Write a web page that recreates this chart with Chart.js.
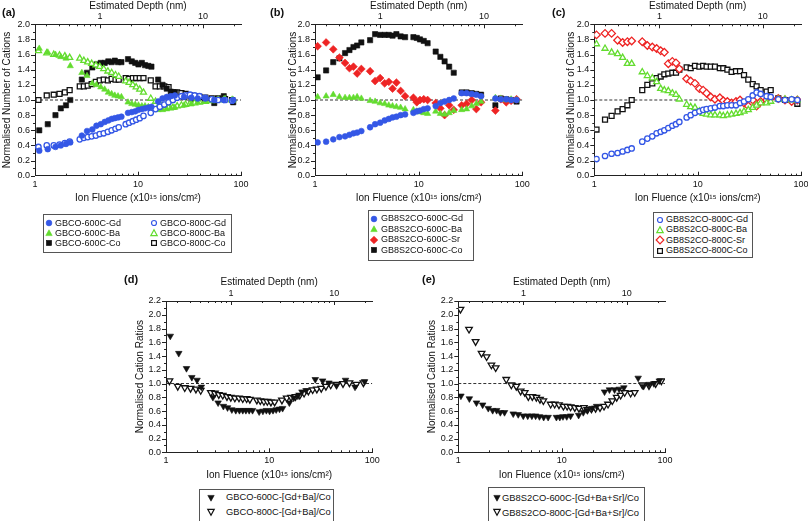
<!DOCTYPE html>
<html><head><meta charset="utf-8">
<script src="https://cdn.jsdelivr.net/npm/chart.js@4.4.0/dist/chart.umd.min.js"></script>
<style>
html,body{margin:0;padding:0;background:#fff;}
#page{position:relative;width:808px;height:521px;overflow:hidden;font-family:"Liberation Sans",Arial,sans-serif;color:#111;}
#page canvas{position:absolute;}
.plbl{position:absolute;font-weight:bold;font-size:11px;line-height:13px;}
.leg{position:absolute;border:1.5px solid #555;box-sizing:border-box;}
.li{position:absolute;white-space:nowrap;line-height:11px;}
.ls{position:absolute;width:10px;height:10px;}
.ls svg{display:block;}
</style></head>
<body><div id="page"></div>
<script>
// ---------------- DATA ----------------
// Ion fluence (x10^15 ions/cm^2) sampling for each sample
const fluGBCO600 = [1.1,1.33,1.58,1.78,2.0,2.2, 2.85,3.2,3.6,3.95,4.35,4.75,5.15,5.55,5.95,6.4,6.9, 8.0,8.7,9.4,10.1,10.9,11.7,12.6,13.5, 15.7,17.3,19.0,20.8,22.8, 28,33,38,45,55,68,84];
const fluGBCO800 = [1.08,1.3,1.52,1.73,1.95,2.17, 2.72,2.98,3.25,3.55,3.9,4.25,4.65,5.1,5.55,6.05,6.5, 7.6,8.2,8.9,9.6,10.4,11.3, 13.3,14.8,16.3,18.0,19.8,21.8,24.0,26.4,29.0,32,35.5,39.5, 45,52,60,70,82];
const fluGB8S2600 = [1.06,1.28,1.5,1.72,1.95,2.15,2.35,2.55,2.8, 3.4,3.8,4.25,4.7,5.15,5.6,6.1,6.7,7.4, 8.9,9.6,10.3,11.2,12.2, 14.6,16.2,17.8,19.7,21.8, 26,29,32.5,36,40, 55,62,70,78,88];
const fluGB8S2800 = [1.05,1.27,1.47,1.68,1.88,2.09,2.3, 2.91,3.26,3.64,4.01,4.39,4.76,5.2,5.69,6.17,6.65, 7.83,8.56,9.42,10.4,11.3,12.2,13.4,14.7,16.4,17.7,19.4,21.3,23.5,25.7,28.1,30.9,34.1,37.2,40.7,46.5,50.9, 60.3,70.0,81.2,92.2];

// (a) GBCO normalised number of cations
const gbco600Gd = [0.33,0.35,0.38,0.40,0.42,0.44, 0.53,0.59,0.61,0.66,0.68,0.71,0.73,0.75,0.76,0.77,0.78, 0.83,0.84,0.85,0.87,0.88,0.89,0.90,0.91, 0.98,1.02,1.04,1.05,1.06, 1.04,1.03,1.02,1.02,1.00,1.00,1.00];
const gbco600Ba = [1.68,1.63,1.60,1.57,1.55,1.45, 1.36,1.32,1.22,1.20,1.17,1.14,1.10,1.08,1.06,1.05,1.04, 0.97,0.95,0.94,0.93,0.92,0.92,0.91,0.90, 0.87,0.87,0.88,0.89,0.90, 0.93,0.95,0.97,0.98,1.00,1.01,1.00];
const gbco600Co = [0.60,0.68,0.80,0.89,0.93,1.00, 1.27,1.36,1.43,1.47,1.49,1.49,1.51,1.50,1.52,1.50,1.50, 1.54,1.51,1.49,1.47,1.49,1.46,1.45,1.44, 1.27,1.20,1.15,1.11,1.10, 1.04,1.01,1.03,1.00,0.96,1.05,0.97];
const gbco800Gd = [0.38,0.40,0.40,0.41,0.43,0.45, 0.48,0.50,0.51,0.52,0.53,0.55,0.56,0.58,0.60,0.62,0.64, 0.68,0.70,0.72,0.74,0.76,0.79, 0.83,0.88,0.91,0.94,0.97,1.00,1.03,1.05,1.06,1.07,1.06,1.05, 1.03,1.01,1.00,1.00,0.99];
const gbco800Ba = [1.65,1.62,1.60,1.59,1.58,1.56, 1.55,1.52,1.50,1.48,1.46,1.44,1.41,1.38,1.36,1.33,1.31, 1.25,1.23,1.20,1.17,1.14,1.10, 1.02,0.98,0.95,0.92,0.90,0.90,0.92,0.93,0.94,0.95,0.96,0.97, 0.98,0.99,1.00,1.01,1.00];
const gbco800Co = [1.00,1.06,1.07,1.08,1.10,1.13, 1.18,1.18,1.19,1.21,1.24,1.26,1.27,1.26,1.28,1.27,1.27, 1.29,1.28,1.29,1.29,1.29,1.29, 1.26,1.18,1.18,1.18,1.17,1.10,1.10,1.09,1.08,1.06,1.05,1.04, 1.03,1.02,1.02,1.01,1.00];

// (b) GB8S2CO-600C
const gb600Gd = [0.44,0.45,0.48,0.51,0.52,0.54,0.56,0.57,0.59, 0.64,0.68,0.70,0.73,0.75,0.77,0.78,0.80,0.81, 0.83,0.85,0.86,0.88,0.89, 0.92,0.96,0.98,1.00,1.02, 1.09,1.09,1.08,1.07,1.05, 1.02,1.01,1.01,1.00,1.00];
const gb600Ba = [1.04,1.05,1.07,1.04,1.03,1.03,1.03,1.04,1.02, 0.99,0.98,0.96,0.95,0.93,0.92,0.91,0.90,0.88, 0.87,0.85,0.84,0.83,0.82, 0.85,0.82,0.81,0.83,0.86, 0.87,0.88,0.92,0.95,0.98, 1.03,1.02,1.00,1.01,1.00];
const gb600Sr = [1.71,1.76,1.67,1.56,1.49,1.42,1.44,1.35,1.41, 1.38,1.25,1.29,1.22,1.24,1.15,1.23,1.12,1.05, 1.03,0.97,1.00,1.01,1.00, 0.96,0.89,0.80,0.93,0.87, 0.93,0.95,1.00,0.88,0.97, 0.86,1.01,0.97,0.99,1.01];
const gb600Co = [1.30,1.39,1.50,1.55,1.62,1.66,1.70,1.72,1.76, 1.79,1.87,1.86,1.86,1.86,1.85,1.87,1.84,1.83, 1.83,1.82,1.80,1.78,1.75, 1.64,1.57,1.51,1.44,1.36, 1.10,1.10,1.09,1.08,1.07, 0.93,1.02,1.01,1.00,0.98];

// (c) GB8S2CO-800C
const gb800Gd = [0.22,0.26,0.29,0.30,0.32,0.34,0.36, 0.45,0.49,0.52,0.56,0.58,0.60,0.63,0.66,0.68,0.71, 0.77,0.80,0.83,0.85,0.87,0.88,0.89,0.90,0.92,0.92,0.93,0.93,0.93,0.96,0.98,1.01,1.06,1.10,1.08,1.05,1.04, 1.01,1.00,1.01,1.00];
const gb800Ba = [1.74,1.68,1.63,1.61,1.56,1.48,1.48, 1.37,1.32,1.29,1.24,1.15,1.13,1.12,1.09,1.07,1.01, 0.94,0.91,0.90,0.85,0.82,0.81,0.80,0.80,0.80,0.79,0.80,0.81,0.82,0.83,0.85,0.87,0.90,0.93,0.96,0.96,0.98, 1.01,1.01,1.00,1.00];
const gb800Sr = [1.86,1.88,1.88,1.79,1.76,1.77,1.78, 1.77,1.72,1.70,1.68,1.65,1.63,1.48,1.51,1.49,1.41, 1.28,1.25,1.22,1.15,1.13,1.09,1.04,1.01,1.03,0.99,0.98,0.96,0.98,1.00,0.96,0.92,1.00,0.92,0.98,1.00,1.02, 1.02,1.00,0.98,1.00];
const gb800Co = [0.61,0.74,0.79,0.85,0.88,0.93,1.00, 1.13,1.20,1.22,1.29,1.31,1.34,1.35,1.36,1.36,1.40, 1.43,1.42,1.45,1.44,1.45,1.44,1.44,1.44,1.42,1.42,1.40,1.37,1.38,1.38,1.33,1.27,1.21,1.18,1.13,1.11,1.13, 1.02,1.00,1.00,0.95];

// (d),(e) normalised cation ratios
const gbco600Ratio = [1.69,1.44,1.22,1.09,1.05,0.95, 0.80,0.72,0.67,0.65,0.62,0.61,0.61,0.61,0.61,0.61,0.61, 0.59,0.60,0.61,0.60,0.61,0.62,0.63,0.64, 0.72,0.79,0.82,0.88,0.90, 1.06,1.04,1.01,0.97,1.05,0.95,1.03];
const gbco800Ratio = [1.04,0.96,0.94,0.93,0.92,0.90, 0.87,0.86,0.84,0.83,0.81,0.80,0.79,0.79,0.78,0.78,0.77, 0.76,0.75,0.74,0.74,0.73,0.73, 0.76,0.79,0.80,0.81,0.83,0.86,0.89,0.91,0.92,0.93,0.96,0.98, 0.99,1.00,1.01,0.99,1.01];
const gb600Ratio = [0.82,0.78,0.72,0.69,0.64,0.61,0.61,0.58,0.58, 0.56,0.55,0.53,0.53,0.53,0.53,0.52,0.51,0.51, 0.51,0.51,0.52,0.52,0.53, 0.54,0.58,0.61,0.64,0.67, 0.88,0.91,0.91,0.92,0.94, 1.08,0.96,0.99,1.00,1.04];
const gb800Ratio = [2.08,1.79,1.61,1.44,1.39,1.27,1.23, 1.06,0.98,0.96,0.89,0.87,0.81,0.81,0.80,0.77,0.75, 0.70,0.70,0.69,0.67,0.67,0.66,0.65,0.64,0.65,0.62,0.63,0.64,0.65,0.67,0.70,0.75,0.80,0.83,0.87,0.86,0.87, 0.98,0.97,1.00,1.04];

// tick labels / axis texts
const xTickLabels = [1, 10, 100];
const depthTickLabels = [1, 10];
const depthPerFluence = 1 / 4.27;   // estimated depth (nm) = fluence * factor
const xTitle = 'Ion Fluence (x10\u00B9\u2075 ions/cm\u00B2)';
const topTitle = 'Estimated Depth (nm)';
const yTitleCations = 'Normalised Number of Cations';
const yTitleRatios = 'Normalised Cation Ratios';
const refLevel = 1.0;

// ---------------- STYLE ----------------
const C = {blue:'#3457e6', green:'#63dc2f', red:'#ee2424', black:'#111111', axis:'#222222'};
const FONT = '"Liberation Sans", Arial, sans-serif';
Chart.defaults.font.family = FONT;
Chart.defaults.color = '#111';

const MK = {
  circF:{ps:'circle', r:2.9, fill:true},  circO:{ps:'circle', r:2.7, fill:false},
  triF:{ps:'triangle', r:3.6, fill:true}, triO:{ps:'triangle', r:3.5, fill:false},
  sqF:{ps:'rect', r:3.7, fill:true},      sqO:{ps:'rect', r:3.5, fill:false},
  diaF:{ps:'rectRot', r:3.9, fill:true},  diaO:{ps:'rectRot', r:3.8, fill:false},
  itriF:{ps:'triangle', r:3.8, fill:true, rot:180}, itriO:{ps:'triangle', r:3.8, fill:false, rot:180}
};

function pts(xs, ys){ const n=Math.min(xs.length, ys.length), o=[]; for(let i=0;i<n;i++) o.push({x:xs[i], y:ys[i]}); return o; }
function series(label, xs, ys, mk, color){
  const m = MK[mk];
  return { label, data: pts(xs, ys), showLine:false, pointStyle:m.ps, rotation:m.rot||0,
    pointRadius:m.r, pointHoverRadius:m.r,
    pointBackgroundColor: m.fill ? color : '#ffffff', pointBorderColor: color,
    pointBorderWidth: m.fill ? 0.6 : 1.3, backgroundColor: color, borderColor: color, order:1 };
}
function refLine(){
  return { label:'ref', data:[{x:1,y:refLevel},{x:100,y:refLevel}], showLine:true, borderColor:'#333',
    borderWidth:1, borderDash:[3,2], pointRadius:0, pointHoverRadius:0, fill:false, order:10 };
}

const tickPlugin = {
  id:'ticksIn',
  afterDraw(chart){
    const ctx = chart.ctx, a = chart.chartArea, sx = chart.scales.x, sx2 = chart.scales.x2, sy = chart.scales.y;
    ctx.save(); ctx.strokeStyle = C.axis; ctx.lineWidth = 1; ctx.beginPath();
    for (let e = 0; e <= 2; e++) for (let m = 1; m <= 9; m++) {
      const v = m * Math.pow(10, e); if (v > 100) break;
      const p = Math.round(sx.getPixelForValue(v)) + 0.5, L = (m === 1) ? 4 : 2;
      ctx.moveTo(p, a.bottom); ctx.lineTo(p, a.bottom - L);
    }
    for (let e = -1; e <= 1; e++) for (let m = 1; m <= 9; m++) {
      const v = m * Math.pow(10, e); if (v < sx2.min || v > sx2.max) continue;
      const p = Math.round(sx2.getPixelForValue(v)) + 0.5, L = (m === 1) ? 4 : 2;
      ctx.moveTo(p, a.top); ctx.lineTo(p, a.top + L);
    }
    const n = Math.round(sy.max * 10);
    for (let i = 0; i <= n; i++) {
      const p = Math.round(sy.getPixelForValue(i / 10)) + 0.5, L = (i % 2 === 0) ? 4 : 2;
      ctx.moveTo(a.left, p); ctx.lineTo(a.left - L, p);
    }
    ctx.stroke(); ctx.restore();
  }
};

const page = document.getElementById('page');

function makePanel(P){
  const left = Math.floor(P.L - 34), top = Math.floor(P.T - 30);
  const w = Math.ceil(P.R + 14 - left), h = Math.ceil(P.B + 33 - top);
  const yBoxW = P.L - left, topBoxH = P.T - top, botBoxH = (top + h) - P.B, rightPad = (left + w) - P.R;
  const cv = document.createElement('canvas');
  cv.width = w; cv.height = h; cv.style.left = left + 'px'; cv.style.top = top + 'px';
  page.appendChild(cv);
  const border = {display:true, color:C.axis, width:1};
  const grid = {display:true, drawOnChartArea:false, drawTicks:false, color:'rgba(0,0,0,0)'};
  new Chart(cv, {
    type:'scatter',
    data:{ datasets:[refLine()].concat(P.sets) },
    options:{
      responsive:false, animation:false, devicePixelRatio:1,
      events:[],
      layout:{ padding:{left:0, top:0, right:rightPad, bottom:0}, autoPadding:false },
      plugins:{ legend:{display:false}, tooltip:{enabled:false} },
      scales:{
        x:{ type:'logarithmic', position:'bottom', min:1, max:100, grid, border,
          afterBuildTicks:s=>{ s.ticks = xTickLabels.map(v=>({value:v})); },
          afterFit:s=>{ s.height = botBoxH; s.paddingLeft = 0; s.paddingRight = 0; },
          ticks:{ autoSkip:false, maxRotation:0, minRotation:0, padding:3.2, font:{size:9}, color:'#111', callback:v=>String(v) },
          title:{ display:true, text:xTitle, font:{size:10}, color:'#111', padding:{top:0, bottom: botBoxH - 29} } },
        x2:{ type:'logarithmic', position:'top', axis:'x', min:depthPerFluence, max:100*depthPerFluence, grid, border,
          afterBuildTicks:s=>{ s.ticks = depthTickLabels.map(v=>({value:v})); },
          afterFit:s=>{ s.height = topBoxH; s.paddingLeft = 0; s.paddingRight = 0; },
          ticks:{ autoSkip:false, maxRotation:0, minRotation:0, padding:2.2, font:{size:9}, color:'#111', callback:v=>String(v) },
          title:{ display:true, text:topTitle, font:{size:10}, color:'#111', padding:{top: topBoxH - 24.3, bottom:0} } },
        y:{ type:'linear', position:'left', min:0, max:P.ymax, grid, border,
          afterFit:s=>{ s.width = yBoxW; s.paddingTop = 0; s.paddingBottom = 0; },
          ticks:{ stepSize:0.2, autoSkip:false, padding:5, font:{size:9}, color:'#111', callback:v=>Number(v).toFixed(1) },
          title:{ display:true, text:P.yTitle, font:{size:10}, color:'#111', padding:{top: Math.max(0, yBoxW - P.ytOff - 6), bottom:0} } }
      }
    },
    plugins:[tickPlugin]
  });
  const lb = document.createElement('div'); lb.className = 'plbl';
  lb.style.left = P.lab[0] + 'px'; lb.style.top = (P.lab[1] - 6.5) + 'px'; lb.textContent = P.label;
  page.appendChild(lb);
}

function symSVG(mk, color){
  const m = MK[mk], f = m.fill ? color : '#fff', sw = m.fill ? 0.6 : 1.2;
  let shape;
  if (m.ps === 'circle') shape = `<circle cx="5" cy="5" r="${m.fill?2.9:2.5}" fill="${f}" stroke="${color}" stroke-width="${sw}"/>`;
  else if (m.ps === 'rect') shape = `<rect x="${m.fill?2.4:2.6}" y="${m.fill?2.4:2.6}" width="${m.fill?5.2:4.8}" height="${m.fill?5.2:4.8}" fill="${f}" stroke="${color}" stroke-width="${sw}"/>`;
  else if (m.ps === 'rectRot') shape = `<polygon points="5,1.2 8.8,5 5,8.8 1.2,5" fill="${f}" stroke="${color}" stroke-width="${sw}"/>`;
  else if (m.rot) shape = `<polygon points="1.8,2.4 8.2,2.4 5,8.2" fill="${f}" stroke="${color}" stroke-width="${sw}"/>`;
  else shape = `<polygon points="5,1.8 8.2,7.6 1.8,7.6" fill="${f}" stroke="${color}" stroke-width="${sw}"/>`;
  return `<svg width="10" height="10" viewBox="0 0 10 10">${shape}</svg>`;
}
function makeLegend(box, items, fs){
  const b = document.createElement('div'); b.className = 'leg';
  b.style.left = box[0]+'px'; b.style.top = box[1]+'px'; b.style.width = box[2]+'px'; b.style.height = box[3]+'px';
  page.appendChild(b);
  for (const it of items){
    const s = document.createElement('div'); s.className = 'ls';
    s.style.left = (it[0]-5)+'px'; s.style.top = (it[2]-5)+'px'; s.innerHTML = symSVG(it[3], it[4]);
    page.appendChild(s);
    const t = document.createElement('div'); t.className = 'li';
    t.style.left = it[1]+'px'; t.style.top = (it[2]-5.5)+'px'; t.style.fontSize = fs+'px'; t.textContent = it[5];
    page.appendChild(t);
  }
}

// ---------------- PANELS ----------------
const L_a = ['GBCO-600C-Gd','GBCO-800C-Gd','GBCO-600C-Ba','GBCO-800C-Ba','GBCO-600C-Co','GBCO-800C-Co'];
const L_b = ['GB8S2CO-600C-Gd','GB8S2CO-600C-Ba','GB8S2CO-600C-Sr','GB8S2CO-600C-Co'];
const L_c = ['GB8S2CO-800C-Gd','GB8S2CO-800C-Ba','GB8S2CO-800C-Sr','GB8S2CO-800C-Co'];
const L_d = ['GBCO-600C-[Gd+Ba]/Co','GBCO-800C-[Gd+Ba]/Co'];
const L_e = ['GB8S2CO-600C-[Gd+Ba+Sr]/Co','GB8S2CO-800C-[Gd+Ba+Sr]/Co'];

makePanel({label:'(a)', lab:[2,12.5], L:35, R:241, T:24.3, B:175.7, ymax:2.0, yTitle:yTitleCations, ytOff:27.5, sets:[
  series(L_a[0], fluGBCO600, gbco600Gd, 'circF', C.blue),
  series(L_a[1], fluGBCO800, gbco800Gd, 'circO', C.blue),
  series(L_a[2], fluGBCO600, gbco600Ba, 'triF', C.green),
  series(L_a[3], fluGBCO800, gbco800Ba, 'triO', C.green),
  series(L_a[4], fluGBCO600, gbco600Co, 'sqF', C.black),
  series(L_a[5], fluGBCO800, gbco800Co, 'sqO', C.black)]});
makePanel({label:'(b)', lab:[270,12.5], L:315, R:522.3, T:24.3, B:175.7, ymax:2.0, yTitle:yTitleCations, ytOff:22, sets:[
  series(L_b[0], fluGB8S2600, gb600Gd, 'circF', C.blue),
  series(L_b[1], fluGB8S2600, gb600Ba, 'triF', C.green),
  series(L_b[2], fluGB8S2600, gb600Sr, 'diaF', C.red),
  series(L_b[3], fluGB8S2600, gb600Co, 'sqF', C.black)]});
makePanel({label:'(c)', lab:[552,12.5], L:594.3, R:801, T:24.3, B:175.7, ymax:2.0, yTitle:yTitleCations, ytOff:22.6, sets:[
  series(L_c[0], fluGB8S2800, gb800Gd, 'circO', C.blue),
  series(L_c[1], fluGB8S2800, gb800Ba, 'triO', C.green),
  series(L_c[2], fluGB8S2800, gb800Sr, 'diaO', C.red),
  series(L_c[3], fluGB8S2800, gb800Co, 'sqO', C.black)]});
makePanel({label:'(d)', lab:[124,279], L:166, R:372.3, T:301, B:452.3, ymax:2.2, yTitle:yTitleRatios, ytOff:26, sets:[
  series(L_d[0], fluGBCO600, gbco600Ratio, 'itriF', C.black),
  series(L_d[1], fluGBCO800, gbco800Ratio, 'itriO', C.black)]});
makePanel({label:'(e)', lab:[422,279], L:458.3, R:665, T:301, B:452.3, ymax:2.2, yTitle:yTitleRatios, ytOff:26, sets:[
  series(L_e[0], fluGB8S2600, gb600Ratio, 'itriF', C.black),
  series(L_e[1], fluGB8S2800, gb800Ratio, 'itriO', C.black)]});

// ---------------- LEGENDS ----------------
makeLegend([43,214,189,39], [
  [49,55,223.3,'circF',C.blue,L_a[0]], [154,160,223.3,'circO',C.blue,L_a[1]],
  [49,55,233.3,'triF',C.green,L_a[2]], [154,160,233.3,'triO',C.green,L_a[3]],
  [49,55,243.3,'sqF',C.black,L_a[4]],  [154,160,243.3,'sqO',C.black,L_a[5]]], 9);
makeLegend([368,210,106,51], [
  [374.3,381,218.5,'circF',C.blue,L_b[0]], [374.3,381,229,'triF',C.green,L_b[1]],
  [374.3,381,239.5,'diaF',C.red,L_b[2]],   [374.3,381,250,'sqF',C.black,L_b[3]]], 9);
makeLegend([653,211.7,100,46.6], [
  [660,666,219.5,'circO',C.blue,L_c[0]], [660,666,229.5,'triO',C.green,L_c[1]],
  [660,666,240,'diaO',C.red,L_c[2]],     [660,666,250.5,'sqO',C.black,L_c[3]]], 9);
makeLegend([199,489,135,40], [
  [210.5,226,497.5,'itriF',C.black,L_d[0]], [210.5,226,512,'itriO',C.black,L_d[1]]], 9.3);
makeLegend([488,487,157,40], [
  [496.7,502,497.5,'itriF',C.black,L_e[0]], [496.7,502,512,'itriO',C.black,L_e[1]]], 9.4);
</script>
</body></html>
